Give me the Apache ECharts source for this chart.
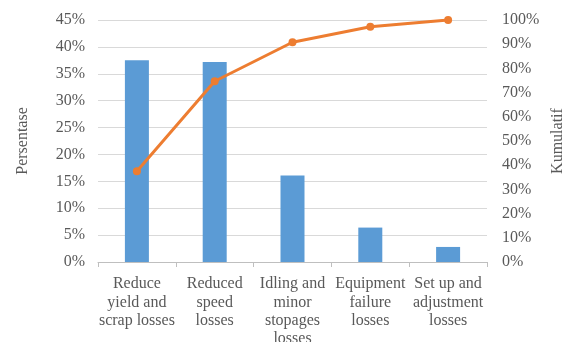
<!DOCTYPE html>
<html><head><meta charset="utf-8">
<script src="https://cdn.jsdelivr.net/npm/echarts@6/dist/echarts.min.js"></script>
<style>html,body{margin:0;padding:0;background:#fff}#c{width:565px;height:342px}</style>
</head><body><div id="c"></div>
<script>
const categories = ["Reduce\nyield and\nscrap losses", "Reduced\nspeed\nlosses", "Idling and\nminor\nstopages\nlosses", "Equipment\nfailure\nlosses", "Set up and\nadjustment\nlosses"];
const percentValues = [37.5, 37.2, 16.1, 6.4, 2.8];
const cumulativeValues = [37.5, 74.7, 90.8, 97.2, 100];
const leftAxisName = "Persentase";
const rightAxisName = "Kumulatif";

const font = "'Liberation Serif', 'Times New Roman', serif";
const gray = "#595959";
const chart = echarts.init(document.getElementById('c'), null, {renderer: 'canvas'});
chart.setOption({
  animation: false,
  backgroundColor: '#fff',
  grid: {left: 98, right: 78, top: 20, bottom: 80, containLabel: false, outerBoundsMode: 'none'},
  xAxis: {
    type: 'category', data: categories,
    axisLine: {lineStyle: {color: '#bfbfbf'}},
    axisTick: {show: true, alignWithLabel: false, length: 5, lineStyle: {color: '#bfbfbf'}},
    axisLabel: {color: gray, fontFamily: font, fontSize: 16, lineHeight: 18.3, margin: 13, interval: 0}
  },
  yAxis: [
    {type: 'value', min: 0, max: 45, interval: 5,
     name: leftAxisName, nameLocation: 'middle', nameRotate: 90, nameGap: 67,
     nameTextStyle: {color: gray, fontFamily: font, fontSize: 16},
     axisLabel: {formatter: '{value}%', color: gray, fontFamily: font, fontSize: 16, margin: 13},
     axisLine: {show: false}, axisTick: {show: false},
     splitLine: {lineStyle: {color: '#d9d9d9', width: 1}}},
    {type: 'value', min: 0, max: 100, interval: 10, position: 'right',
     name: rightAxisName, nameLocation: 'middle', nameRotate: 90, nameGap: 60,
     nameTextStyle: {color: gray, fontFamily: font, fontSize: 16},
     axisLabel: {formatter: '{value}%', color: gray, fontFamily: font, fontSize: 16, margin: 15},
     axisLine: {show: false}, axisTick: {show: false}, splitLine: {show: false}}
  ],
  series: [
    {type: 'bar', data: percentValues, yAxisIndex: 0, barWidth: 24,
     itemStyle: {color: '#5b9bd5'}},
    {type: 'line', data: cumulativeValues, yAxisIndex: 1, symbol: 'circle', symbolSize: 8,
     lineStyle: {color: '#ed7d31', width: 3}, itemStyle: {color: '#ed7d31'}}
  ]
});
</script></body></html>
